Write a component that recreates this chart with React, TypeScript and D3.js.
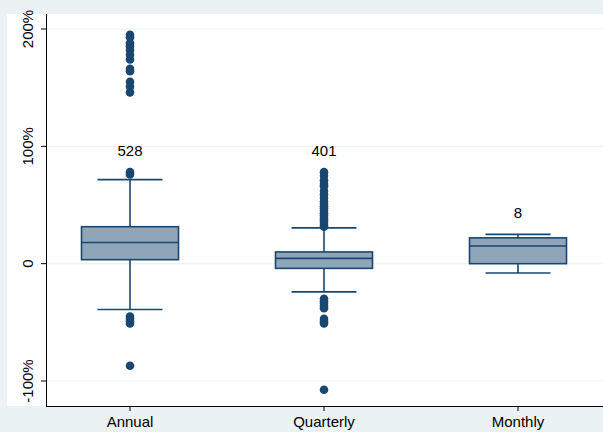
import * as d3 from 'd3'

const W = 603
const H = 432

const categories = ['Annual', 'Quarterly', 'Monthly']
const counts = [528, 401, 8]
const q1 = [3.4, -4, 0]
const medians = [18, 4.5, 15]
const q3 = [31.5, 10, 22]
const whiskLo = [-39, -24, -8]
const whiskHi = [71.6, 30.5, 25]
const outliers = [
  [195, 193, 188, 185, 182, 178, 174, 166, 164, 155, 151, 146, 78, 76, -45, -47, -49, -51, -87],
  [78, 75, 71, 68, 66, 62, 59, 56, 53, 51, 49, 47, 45, 43, 41, 39, 37, 35, 33, 31.5, -30, -32, -34, -36, -38, -47, -49, -51, -107.5],
  [],
]
const yTicks = [-100, 0, 100, 200]

const navy = '#1a476f'
const fill = '#8fa5b9'

export default function App() {
  const x = d3.scalePoint<string>().domain(categories).range([33, 615]).padding(0.5)
  const y = d3.scaleLinear().domain([-100, 200]).range([381, 29])
  const boxW = 97
  const capW = 65
  const fmt = (v: number) => (v === 0 ? '0' : `${v}%`)

  return (
    <svg width={W} height={H} style={{ position: 'absolute', left: 0, top: 0, fontFamily: 'Liberation Sans, Arial, sans-serif' }}>
      <rect width={W} height={H} fill="#eaf2f3" />
      <rect x={7} y={14} width={W - 7} height={392} fill="#fff" />
      {yTicks.map((t) => (
        <g key={t}>
          <line x1={46} x2={W} y1={y(t)} y2={y(t)} stroke="#eaf2f3" strokeWidth={1.2} />
          <line x1={41} x2={46} y1={y(t)} y2={y(t)} stroke="#000" />
          <text transform={`translate(33,${y(t)}) rotate(-90)`} textAnchor="middle" fontSize={15}>
            {fmt(t)}
          </text>
        </g>
      ))}
      <line x1={46.5} x2={46.5} y1={14} y2={406} stroke="#000" />
      <line x1={46} x2={W} y1={406.5} y2={406.5} stroke="#000" />
      {categories.map((c, i) => {
        const cx = x(c)!
        return (
          <g key={c}>
            <line x1={cx} x2={cx} y1={y(whiskHi[i])} y2={y(q3[i])} stroke={navy} strokeWidth={1.6} />
            <line x1={cx} x2={cx} y1={y(q1[i])} y2={y(whiskLo[i])} stroke={navy} strokeWidth={1.6} />
            <line x1={cx - capW / 2} x2={cx + capW / 2} y1={y(whiskHi[i])} y2={y(whiskHi[i])} stroke={navy} strokeWidth={1.6} />
            <line x1={cx - capW / 2} x2={cx + capW / 2} y1={y(whiskLo[i])} y2={y(whiskLo[i])} stroke={navy} strokeWidth={1.6} />
            <rect x={cx - boxW / 2} y={y(q3[i])} width={boxW} height={y(q1[i]) - y(q3[i])} fill={fill} stroke={navy} strokeWidth={1.6} />
            <line x1={cx - boxW / 2} x2={cx + boxW / 2} y1={y(medians[i])} y2={y(medians[i])} stroke={navy} strokeWidth={1.6} />
            {outliers[i].map((v, j) => (
              <circle key={j} cx={cx} cy={y(v)} r={4.3} fill={navy} />
            ))}
            <text x={cx} y={y(Math.max(whiskHi[i], ...outliers[i].filter((v) => v < 100))) - 16} textAnchor="middle" fontSize={15}>
              {counts[i]}
            </text>
            <line x1={cx} x2={cx} y1={406} y2={411} stroke="#000" />
            <text x={cx} y={427} textAnchor="middle" fontSize={15}>
              {c}
            </text>
          </g>
        )
      })}
    </svg>
  )
}
